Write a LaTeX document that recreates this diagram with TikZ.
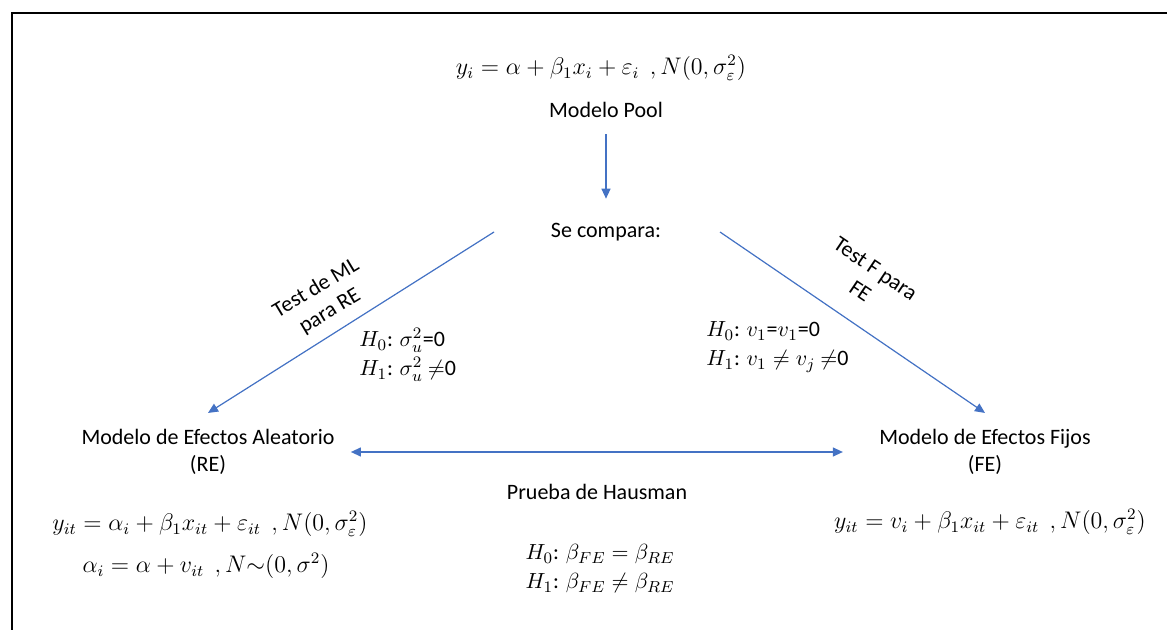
\documentclass[tikz,border=0pt]{standalone}
\usepackage{amsmath,amssymb}
\usepackage{fontspec}
\setmainfont{Carlito}
\usepackage{tikz}
\usetikzlibrary{positioning,arrows.meta,calc}
\definecolor{arrblue}{HTML}{4472C4}

\begin{document}
\begin{tikzpicture}[
    x=0.5pt, y=-0.5pt,
    >={Triangle[length=5pt, width=4.5pt]},
    lbl/.style={align=center, font=\fontsize{11}{13.5}\selectfont, inner sep=8pt},
    eq/.style={align=center, font=\fontsize{11.5}{14}\selectfont, inner sep=1pt},
    hyp/.style={align=left, font=\fontsize{11}{14.5}\selectfont, inner sep=1pt, anchor=west},
    arr/.style={->, draw=arrblue, fill=arrblue, line width=0.6pt},
  ]
    \useasboundingbox (0,0) rectangle (1167,630);
    % frame
    \draw[line width=0.8pt] (12,630) -- (12,13) -- (1167,13);

    \node[eq] (poolq) at (601,68) {$y_i = \alpha + \beta_1 x_i + \varepsilon_i\ \ ,N(0,\sigma_\varepsilon^2)$};
    \node[lbl] (pool) at (606,110) {Modelo Pool};
    \node[lbl] (cmp) at (606,232) {Se compara:};
    \node[lbl] (re) at (208,452) {Modelo de Efectos Aleatorio\\(RE)};
    \node[lbl] (fe) at (985,452) {Modelo de Efectos Fijos\\(FE)};
    \node[lbl] (haus) at (597,492) {Prueba de Hausman};

    \node[lbl, rotate=31] (ml) at (323,300) {Test de ML\\para RE};
    \node[lbl, rotate=-34] (ftest) at (868,280) {Test F para\\FE};

    \node[hyp] (reh) at (357,355) {$H_0$: $\sigma_u^2$=0\\$H_1$: $\sigma_u^2$ $\neq$0};
    \node[hyp] (feh) at (704,347) {$H_0$: $v_1$=$v_1$=0\\$H_1$: $v_1\neq v_j$ $\neq$0};
    \node[hyp, anchor=center] (haush) at (600,569) {$H_0$: $\beta_{FE}=\beta_{RE}$\\$H_1$: $\beta_{FE}\neq\beta_{RE}$};

    \node[eq] (req) at (210,524) {$y_{it} = \alpha_i + \beta_1 x_{it} + \varepsilon_{it}\ \ ,N(0,\sigma_\varepsilon^2)$};
    \node[eq] (reqa) at (206,566) {$\alpha_i = \alpha + v_{it}\ \ ,N{\sim}(0,\sigma^2)$};
    \node[eq] (feq) at (990,522) {$y_{it} = v_i + \beta_1 x_{it} + \varepsilon_{it}\ \ ,N(0,\sigma_\varepsilon^2)$};

    \coordinate (cl) at (494,232);
    \coordinate (cr) at (720,232);

    \draw[arr] (pool) -- ([yshift=4pt]cmp.north);
    \draw[arr] (cl) -- (re.north);
    \draw[arr] (cr) -- (fe.north);
    \draw[arr, <->] (re.east) -- ([xshift=-10pt]fe.west);
  \end{tikzpicture}
\end{document}
